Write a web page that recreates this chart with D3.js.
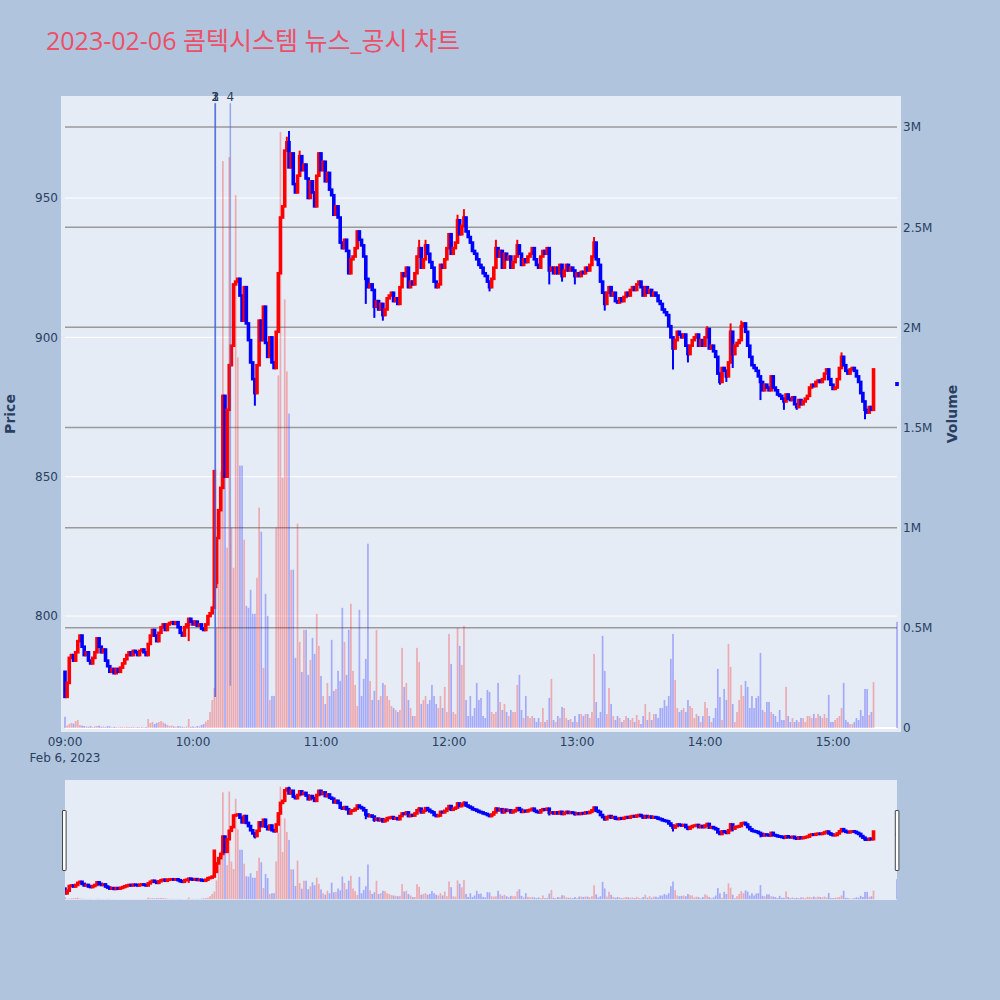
<!DOCTYPE html>
<html><head><meta charset="utf-8">
<script src="https://cdn.jsdelivr.net/npm/d3@7"></script>
<style>body{margin:0;background:#B0C4DE;} svg{display:block;}</style>
</head><body><svg id="c" width="1000" height="1000"></svg>
<script>
// ---- data (1-minute candles, 2023-02-06) ----
const close09 = [771,776,785,786,784,787,791,793,789,786,787,784,783,785,787,792,789,787,788,784,
782,780,781,779.5,781,780,781.5,783,784.5,786,787,786,787.5,787,786,787.5,788,787,786,790,
793,795,793,791,794,796,797,795,797,797.5,797.8,797.2,797.8,796,794,793,796,797,799,798];
const close10 = [797,798,796.5,797,795.5,795,797,800,801,803,852,828,838,846,879,850,874,890,897,919,
920,921,915,906,918,905,899,891,885,880,890,906,899,911,898,893,900,891,889,902,
923,943,947,967,970,961,966,955,952,958,965,960,962,957,950,956,952,947,958,966];
const close11 = [960,963,956,959,953,951,944,947,943,934,932,935,931,923,928,929,932,938,935,933,
929,921,918,919,917,911,913,910,912,908,910,914,915,916,913,914,912,918,923,922,
925,918,920,919,923,929,932,925,928,933,930,927,925,920,918,919,926,925,928,932];
const close12 = [937,930,932,934,942,937,940,943,938,936,934,931,930,928,926,925,923,922,920,918,
921,925,932,929,931,925,930,928,929,925,927,929,933,930,926,928,927,929,930,932,
928,926,925,929,931,930,932,924,925,923,925,923,926,922,924,926,924,925,924,922];
const close13 = [923,922,923.5,923,925,924,926,929,934,928,926,920,916,912,916,918,915,916,913,912.5,
914,913,914.5,916,915,917,918,917,919,920,918,915,918,916,917,915,916,915,913,912,
910,909,908,904,900,896,899,902,901,900,901,897,894,897,899,900,901,897,899,897];
const close14 = [900,903,896,897,895,893,887,884,889,888,886,891,902,894,897,898,899,904,905,902,
897,893,890,889,888,886,884,881,883,882,881,886,882,881,879.5,879,878,877,879.5,878,
877.5,878.5,876,875,877.5,876,877,878,879,882,883,882.5,884,884.5,884,885,887,888.5,885,883];
const close15 = [881.5,882,885,889,893,890,888,887,888.5,889,888,886,884,880,877,874,873,875,874,888.5];

// volume, thousands of shares
const vol09 = [56,12,20,25,22,35,40,15,12,10,8,6,10,5,8,10,12,6,8,5,
10,8,4,6,5,3,6,5,4,6,5,4,6,3,5,4,6,3,5,45,
25,30,20,25,30,35,28,22,15,10,12,8,6,10,8,6,5,8,45,6];
const vol10 = [8,5,10,8,15,20,32,40,80,140,200,500,1000,1280,2830,1300,900,2850,1000,800,
2660,1850,1310,1310,940,610,600,690,570,570,750,1100,980,300,670,560,140,160,160,1000,
1760,2975,1250,2140,1780,1570,790,790,350,1020,430,280,490,490,265,340,450,370,570,410];
const vol11 = [260,160,120,225,160,440,185,195,285,235,600,430,265,490,620,285,215,110,590,160,
245,345,920,235,140,185,490,140,160,225,215,160,140,110,100,90,80,90,400,205,
225,140,100,60,60,400,330,120,140,160,120,140,215,160,120,100,160,100,205,80];
const vol12 = [470,320,80,70,500,410,315,510,140,60,160,60,100,225,140,150,60,50,190,180,
80,70,80,225,130,90,120,80,60,90,80,80,215,265,90,50,160,60,50,60,
50,30,50,30,100,30,40,150,245,40,30,60,50,105,100,50,40,45,30,60];
const vol13 = [30,70,70,60,70,70,50,80,370,130,50,80,460,285,70,200,120,60,40,60,
50,30,40,60,50,40,50,30,65,40,20,60,120,40,80,40,70,70,50,100,
100,140,110,160,345,470,240,100,80,90,100,80,140,110,100,50,70,60,30,60];
const vol14 = [130,100,60,30,50,100,295,155,40,195,140,420,305,120,30,80,140,215,160,235,
205,100,160,100,150,160,375,90,80,130,130,80,70,60,30,90,40,40,205,60,
30,50,30,40,30,50,50,30,60,60,50,70,50,70,60,50,70,50,165,30];
const vol15 = [30,40,50,60,100,225,40,30,20,20,30,50,40,90,60,195,195,65,80,230];

const gapOpens = [[0,780],[71,812]];
const wickHighs = [[104,972],[105,974],[110,967],[166,935],[169,935],[184,944],[187,946],[202,935],
[212,935],[248,936],[301,904],[312,905],[317,906],[364,894.6]];
const wickLows = [[58,791],[71,810],[89,875.5],[141,912],[145,907],[149,906],[199,916.5],[227,919],
[233,920],[239,919],[253,909.6],[285,888.5],[292,891],[307,883],[310,884],[313,889],[326,877.5],
[337,874],[343,874],[375,870.6]];
const auctionCandle = {time:[15,30], open:883.5, high:883.6, low:883.0, close:883.0, volume:530};

const newsLabels = ["1","2","3","4"];
const newsTimes = [[10,10,27],[10,10,27],[10,10,27],[10,17,30]];
const newsLow = [771,771,771,775];
const newsHigh = 984;

const priceTicks = [800,850,900,950];
const volTicks = [0,500,1000,1500,2000,2500,3000];
const volTickLabels = ["0","0.5M","1M","1.5M","2M","2.5M","3M"];
const hourTicks = [9,10,11,12,13,14,15];
const titleText = "2023-02-06 콤텍시스템 뉴스_공시 차트";

// ---- build candles ----
const closes = [...close09,...close10,...close11,...close12,...close13,...close14,...close15];
const vols = [...vol09,...vol10,...vol11,...vol12,...vol13,...vol14,...vol15];
const gapMap = new Map(gapOpens), hiMap = new Map(wickHighs), loMap = new Map(wickLows);
const T = (h,m,s=0)=>new Date(2023,1,6,h,m,s);
const candles = closes.map((c,i)=>{
  const o = gapMap.has(i) ? gapMap.get(i) : closes[i-1];
  let h = Math.max(o,c), l = Math.min(o,c);
  if (hiMap.has(i)) h = Math.max(h, hiMap.get(i));
  if (loMap.has(i)) l = Math.min(l, loMap.get(i));
  return {t:T(9,i), o, h, l, c, v:vols[i]};
});
candles.push({t:T(...auctionCandle.time), o:auctionCandle.open, h:auctionCandle.high,
  l:auctionCandle.low, c:auctionCandle.close, v:auctionCandle.volume});

// ---- scales ----
const svg = d3.select("#c");
const x = d3.scaleTime().domain([T(9,0), T(15,30)]).range([65, 897]);
const priceDomain = [758.4, 986.6], volDomain = [-20, 3155];
const yP = d3.scaleLinear().domain(priceDomain).range([732, 96]);
const yV = d3.scaleLinear().domain(volDomain).range([732, 96]);
const yPs = d3.scaleLinear().domain(priceDomain).range([900, 780]);
const yVs = d3.scaleLinear().domain(volDomain).range([900, 780]);

const RED = "#ff0000", BLUE = "#0000ff";
const col = d => d.c > d.o ? RED : BLUE;
const volCol = d => d.c > d.o ? "rgba(255,0,0,0.28)" : "rgba(0,0,255,0.28)";
const FONT = "'DejaVu Sans', Verdana, sans-serif";
const TXT = "#2a3f5f";

// title
svg.append("text").attr("x", 46).attr("y", 50).text(titleText)
  .attr("font-family", "'Open Sans', 'Noto Sans CJK KR', sans-serif")
  .attr("font-size", 25).attr("fill", "#EC4F66");

// main plot background
svg.append("rect").attr("x", 61).attr("y", 96).attr("width", 840).attr("height", 636).attr("fill", "#E5ECF6");
const defs = svg.append("defs");
defs.append("clipPath").attr("id","clipMain").append("rect").attr("x",61).attr("y",96).attr("width",840).attr("height",636);
defs.append("clipPath").attr("id","clipSl").append("rect").attr("x",65).attr("y",780).attr("width",832).attr("height",120);

// grids
const grid = svg.append("g");
grid.selectAll(".pg").data(priceTicks).join("line")
  .attr("x1", 65).attr("x2", 897).attr("y1", d=>yP(d)).attr("y2", d=>yP(d))
  .attr("stroke", "#ffffff").attr("stroke-width", 1);
grid.selectAll(".vg").data(volTicks.slice(1)).join("line")
  .attr("x1", 65).attr("x2", 897).attr("y1", d=>yV(d)).attr("y2", d=>yV(d))
  .attr("stroke", "#9a9a9a").attr("stroke-width", 1.5);
grid.append("line").attr("x1", 65).attr("x2", 897).attr("y1", yV(0)).attr("y2", yV(0))
  .attr("stroke", "#ffffff").attr("stroke-width", 2);

function drawVolume(g, yv) {
  g.selectAll("rect.vb").data(candles).join("rect").attr("class","vb")
    .attr("x", d => x(d.t) - 0.85).attr("width", 1.7)
    .attr("y", d => yv(d.v)).attr("height", d => Math.max(0, yv(0) - yv(d.v)))
    .attr("fill", volCol);
}
function drawCandles(g, yp) {
  const cg = g.selectAll("g.cd").data(candles).join("g").attr("class","cd");
  cg.append("line").attr("x1", d=>x(d.t)).attr("x2", d=>x(d.t))
    .attr("y1", d=>yp(d.h)).attr("y2", d=>yp(d.l))
    .attr("stroke", col).attr("stroke-width", 2);
  cg.append("rect").attr("x", d=>x(d.t)-0.5).attr("width", 1.0)
    .attr("y", d=>yp(Math.max(d.o,d.c))).attr("height", d=>Math.abs(yp(d.o)-yp(d.c)))
    .attr("fill", col).attr("stroke", col).attr("stroke-width", 2.6);
}

const main = svg.append("g").attr("clip-path","url(#clipMain)");
drawVolume(main.append("g"), yV);
drawCandles(main.append("g"), yP);

// news markers
const news = newsLabels.map((lab,i)=>({lab, t:T(...newsTimes[i]), lo:newsLow[i], hi:newsHigh}));
main.selectAll("line.nl").data(news).join("line").attr("class","nl")
  .attr("x1", d=>x(d.t)).attr("x2", d=>x(d.t)).attr("y1", d=>yP(d.hi)).attr("y2", d=>yP(d.lo))
  .attr("stroke", "rgba(70,100,225,0.5)").attr("stroke-width", 1.5);
svg.selectAll("text.nt").data(news).join("text").attr("class","nt")
  .attr("x", d=>x(d.t)).attr("y", d=>yP(d.hi)-2).attr("text-anchor","middle")
  .attr("font-family", FONT).attr("font-size", 12).attr("fill", TXT).text(d=>d.lab);

// axes labels
const ax = svg.append("g").attr("font-family", FONT).attr("font-size", 12).attr("fill", TXT);
ax.selectAll("text.pt").data(priceTicks).join("text")
  .attr("x", 58).attr("y", d=>yP(d)).attr("dy","0.36em").attr("text-anchor","end").text(d=>d);
ax.selectAll("text.vt").data(volTicks).join("text")
  .attr("x", 903).attr("y", d=>yV(d)).attr("dy","0.36em").attr("text-anchor","start")
  .text((d,i)=>volTickLabels[i]);
const fmt = d3.timeFormat("%H:%M");
ax.selectAll("text.xt").data(hourTicks).join("text")
  .attr("x", d=>x(T(d,0))).attr("y", 746).attr("text-anchor","middle").text(d=>fmt(T(d,0)));
ax.append("text").attr("x", x(T(9,0))).attr("y", 762).attr("text-anchor","middle")
  .text(d3.timeFormat("%b %-d, %Y")(T(9,0)));
svg.append("text").attr("transform","translate(10,414) rotate(-90)").attr("dy","0.35em")
  .attr("text-anchor","middle").attr("font-family",FONT).attr("font-size",14)
  .attr("font-weight","bold").attr("fill",TXT).text("Price");
svg.append("text").attr("transform","translate(952,414) rotate(-90)").attr("dy","0.35em")
  .attr("text-anchor","middle").attr("font-family",FONT).attr("font-size",14)
  .attr("font-weight","bold").attr("fill",TXT).text("Volume");

// range slider
svg.append("rect").attr("x",65).attr("y",780).attr("width",832).attr("height",120).attr("fill","#E5ECF6");
const sl = svg.append("g").attr("clip-path","url(#clipSl)");
drawVolume(sl.append("g"), yVs);
drawCandles(sl.append("g"), yPs);
[[62.5],[895.3]].forEach(([hx])=>{
  svg.append("rect").attr("x",hx).attr("y",810.5).attr("width",3.6).attr("height",60)
    .attr("fill","#ffffff").attr("stroke","#444").attr("stroke-width",1).attr("rx",0.5);
});
</script></body></html>
